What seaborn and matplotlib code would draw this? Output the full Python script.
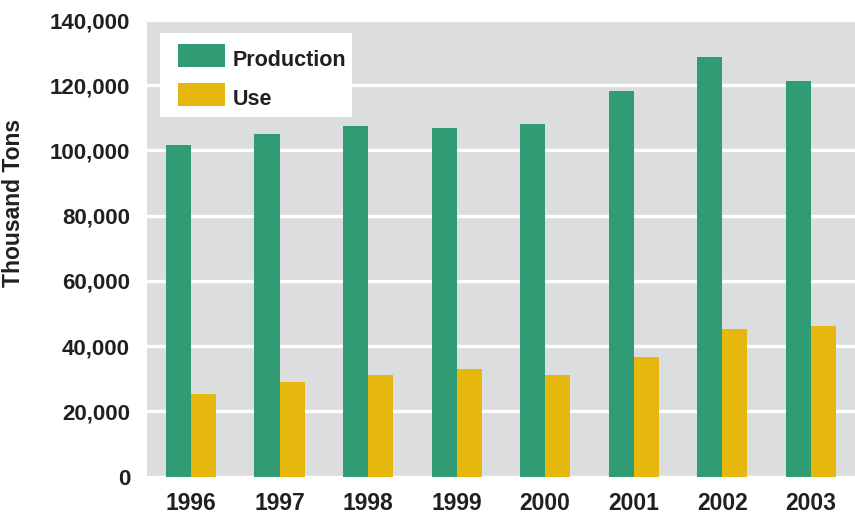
import matplotlib
matplotlib.use("Agg")
import matplotlib.pyplot as plt
import seaborn as sns
import pandas as pd
from matplotlib.ticker import FuncFormatter
from matplotlib.patches import Rectangle

years = ["1996", "1997", "1998", "1999", "2000", "2001", "2002", "2003"]
production = [101700, 105100, 107600, 106800, 108200, 118100, 128700, 121400]
use = [25200, 29100, 31100, 33000, 31100, 36800, 45400, 46300]
series_names = ["Production", "Use"]
colors = ["#2f9c74", "#e6b80e"]
yticks = [0, 20000, 40000, 60000, 80000, 100000, 120000, 140000]

df = pd.DataFrame({
    "Year": years * 2,
    "Value": production + use,
    "Series": [series_names[0]] * len(years) + [series_names[1]] * len(years),
})

sns.set_theme(style="dark")
txt = "#231f20"
plt.rcParams["font.family"] = ["Liberation Sans", "DejaVu Sans"]

W, H = 855, 514
L, R, T, B = 146.7, 855, 20, 476.7
fig = plt.figure(figsize=(W / 100, H / 100), dpi=100)
ax = fig.add_axes([L / W, 1 - B / H, (R - L) / W, (B - T) / H])
ax.set_facecolor("#dcdddf")

sns.barplot(data=df, x="Year", y="Value", hue="Series", palette=colors,
            width=0.565, saturation=1, ax=ax, legend=False, zorder=3,
            edgecolor="none")

ax.set_ylim(0, 140000)
ax.set_xlim(-0.5, 7.5)
ax.set_yticks(yticks)
ax.yaxis.set_major_formatter(FuncFormatter(lambda v, p: f"{int(v):,}"))
ax.grid(axis="y", color="white", linewidth=2.4, zorder=1)
ax.grid(axis="x", visible=False)
ax.set_axisbelow(True)
for s in ax.spines.values():
    s.set_visible(False)
ax.tick_params(axis="both", length=0, colors=txt)
ax.tick_params(axis="y", pad=12, labelsize=16)
ax.tick_params(axis="x", pad=11, labelsize=16.5)
for lab in ax.get_xticklabels() + ax.get_yticklabels():
    lab.set_fontweight("bold")
    lab.set_color(txt)
ax.set_xlabel("")


def axx(px):
    return (px - L) / (R - L)


def axy(py):
    return (B - py) / (B - T)


ax.set_ylabel("Thousand Tons", fontsize=16.5, fontweight="bold", color=txt)
ax.yaxis.set_label_coords(axx(25), axy(202.5))

# legend box (drawn by hand to match the reference layout)
ax.add_patch(Rectangle((axx(160), axy(117)), axx(352) - axx(160), axy(33) - axy(117),
                       transform=ax.transAxes, facecolor="white", edgecolor="none",
                       zorder=5))
rows = [(44, 67, 66), (83, 106, 105)]
for (top, bot, base), c, name in zip(rows, colors, series_names):
    ax.add_patch(Rectangle((axx(178), axy(bot)), axx(225) - axx(178), axy(top) - axy(bot),
                           transform=ax.transAxes, facecolor=c, edgecolor="none",
                           zorder=6))
    ax.text(axx(233), axy(base), name, transform=ax.transAxes, ha="left",
            va="baseline", fontsize=15.5, fontweight="bold", color=txt, zorder=7)

fig.savefig("out.png", dpi=100)
